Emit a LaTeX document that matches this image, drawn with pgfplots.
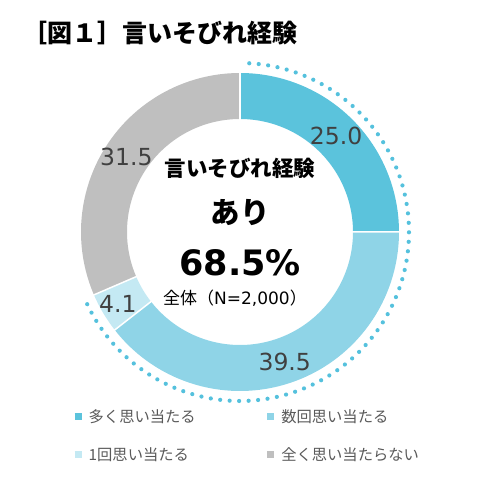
\documentclass[border=0pt]{standalone}
\usepackage{fontspec}
\setmainfont{Noto Sans CJK JP}
\newfontfamily\numfont{DejaVu Sans}
\usepackage{pgfplots}
\usepackage{pgfplotstable}
\pgfplotsset{compat=1.18}
\definecolor{c1}{HTML}{5BC3DC}
\definecolor{c2}{HTML}{8FD4E7}
\definecolor{c3}{HTML}{C4E9F3}
\definecolor{c4}{HTML}{BFBFBF}
\definecolor{dotc}{HTML}{55C1DD}
\definecolor{lblc}{HTML}{404040}
\definecolor{legc}{HTML}{595959}
\pgfplotstableread{
cat value
A 25.0
B 39.5
C 4.1
D 31.5
}\piedata
\begin{document}
\begin{tikzpicture}
\pgfplotstablegetelem{0}{value}\of\piedata\let\va\pgfplotsretval
\pgfplotstablegetelem{1}{value}\of\piedata\let\vb\pgfplotsretval
\pgfplotstablegetelem{2}{value}\of\piedata\let\vc\pgfplotsretval
\pgfplotstablegetelem{3}{value}\of\piedata\let\vd\pgfplotsretval
\pgfmathsetmacro\tot{\va+\vb+\vc+\vd}
\pgfmathsetmacro\aA{90}
\pgfmathsetmacro\aB{90-360*\va/\tot}
\pgfmathsetmacro\aC{\aB-360*\vb/\tot}
\pgfmathsetmacro\aD{\aC-360*\vc/\tot}
\pgfmathsetmacro\aE{\aD-360*\vd/\tot}
\pgfmathsetmacro\mA{(\aA+\aB)/2}
\pgfmathsetmacro\mB{(\aB+\aC)/2}
\pgfmathsetmacro\mC{(\aC+\aD)/2}
\pgfmathsetmacro\mD{(\aD+\aE)/2}
\pgfmathsetmacro\dotstart{\aD+2}
\begin{axis}[
  scale only axis, width=488pt, height=504pt,
  xmin=0, xmax=488, ymin=0, ymax=504,
  axis line style={draw=none}, ticks=none, clip=false,
  legend image code/.code={\draw[#1, line width=7pt, line cap=butt] (0pt,0pt) -- (7pt,0pt);},
  legend columns=2,
  legend cell align=left,
  legend style={at={(axis cs:71,95)}, anchor=north west, draw=none, fill=none,
    font=\fontsize{15.3}{18}\selectfont, text=legc, row sep=24pt, inner sep=0pt,
    nodes={inner sep=0pt},
    /tikz/every odd column/.append style={column sep=3.5pt},
    /tikz/every even column/.append style={column sep=68pt}},
]
\addplot[draw=c1, line width=46pt, domain=\aB:\aA, samples=80] ({240+136*cos(x)},{272+136*sin(x)});
\addplot[draw=c2, line width=46pt, domain=\aC:\aB, samples=120] ({240+136*cos(x)},{272+136*sin(x)});
\addplot[draw=c3, line width=46pt, domain=\aD:\aC, samples=20] ({240+136*cos(x)},{272+136*sin(x)});
\addplot[draw=c4, line width=46pt, domain=\aE:\aD, samples=100] ({240+136*cos(x)},{272+136*sin(x)});
\addplot[white, line width=1.5pt, domain=110:162, samples=2] ({240+x*cos(\aA)},{272+x*sin(\aA)});
\addplot[white, line width=1.5pt, domain=110:162, samples=2] ({240+x*cos(\aB)},{272+x*sin(\aB)});
\addplot[white, line width=1.5pt, domain=110:162, samples=2] ({240+x*cos(\aC)},{272+x*sin(\aC)});
\addplot[white, line width=1.5pt, domain=110:162, samples=2] ({240+x*cos(\aD)},{272+x*sin(\aD)});
\addplot[dotc, line width=4.2pt, line cap=round, dash pattern=on 0pt off 9.5pt, domain=\dotstart:90, samples=200] ({240+169*cos(x)},{272+169*sin(x)});
\addlegendimage{draw=c1}\addlegendentry{多く思い当たる}
\addlegendimage{draw=c2}\addlegendentry{数回思い当たる}
\addlegendimage{draw=c3}\addlegendentry{1回思い当たる}
\addlegendimage{draw=c4}\addlegendentry{全く思い当たらない}
\node[text=lblc, font=\numfont\fontsize{23.5}{26}\selectfont] at (axis cs:{240+136*cos(\mA)},{272+136*sin(\mA)}) {\va};
\node[text=lblc, font=\numfont\fontsize{23.5}{26}\selectfont] at (axis cs:{240+137*cos(\mB)},{272+137*sin(\mB)}) {\vb};
\node[text=lblc, font=\numfont\fontsize{23.5}{26}\selectfont] at (axis cs:{240+142*cos(\mC)},{272+142*sin(\mC)}) {\vc};
\node[text=lblc, font=\numfont\fontsize{23.5}{26}\selectfont] at (axis cs:{240+136*cos(\mD)},{272+136*sin(\mD)}) {\vd};
\node[font=\bfseries\fontsize{21.5}{25}\selectfont] at (axis cs:240,336) {言いそびれ経験};
\node[font=\bfseries\fontsize{29.5}{34}\selectfont] at (axis cs:240,291) {あり};
\node[font=\numfont\bfseries\fontsize{35}{40}\selectfont] at (axis cs:240,241) {68.5\%};
\node[font=\fontsize{17}{20}\selectfont] at (axis cs:235,206) {全体（{\numfont N=2,000}）};
\node[anchor=west, font=\bfseries\fontsize{25}{28}\selectfont, inner sep=0pt] at (axis cs:22,471) {［図１］言いそびれ経験};
\end{axis}
\pgfresetboundingbox
\path (0,0) rectangle (488pt,504pt);
\end{tikzpicture}
\end{document}
